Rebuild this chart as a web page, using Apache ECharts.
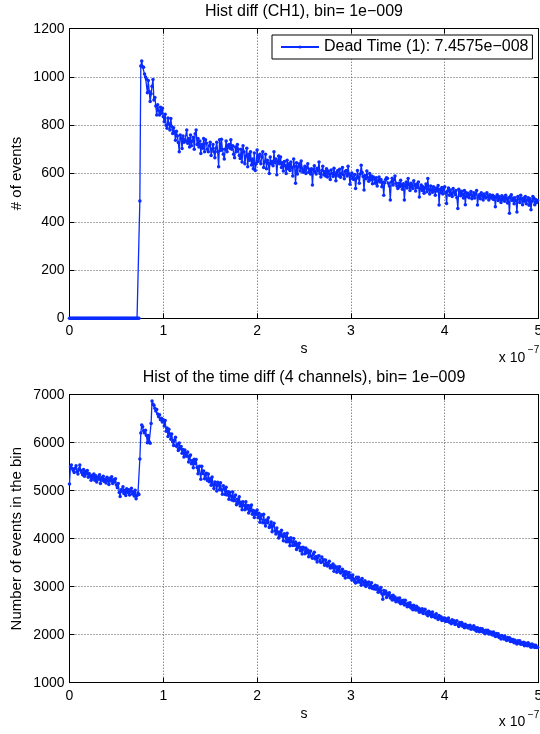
<!DOCTYPE html>
<html>
<head>
<meta charset="utf-8">
<script src="https://cdn.jsdelivr.net/npm/echarts@6/dist/echarts.min.js"></script>
<style>html,body{margin:0;padding:0;background:#fff;overflow:hidden}#c{width:540px;height:734px}</style>
</head>
<body>
<div id="c"></div>
<script>
// ---- data (bin counts, bin width 1e-9 s, first bin at 0) ----
const binWidth = 1e-9;
const xUnit = 1e-7;               // axis shows "x 10^-7"
const xTickLabels = ['0','1','2','3','4','5'];
const topTitle = 'Hist diff (CH1), bin= 1e\u2212009';
const bottomTitle = 'Hist of the time diff (4 channels), bin= 1e\u2212009';
const legendName = 'Dead Time (1): 7.4575e\u2212008';
const topYLabel = '# of events';
const bottomYLabel = 'Number of events in the bin';
const xLabel = 's';

const ch1Counts = [
0,0,0,0,0,0,0,0,0,0,0,0,0,0,0,0,0,0,0,0,0,0,0,0,0,
0,0,0,0,0,0,0,0,0,0,0,0,0,0,0,0,0,0,0,0,0,0,0,0,0,
0,0,0,0,0,0,0,0,0,0,0,0,0,0,0,0,0,0,0,0,0,0,0,0,0,
486,1045,1066,1042,1040,1012,1000,992,935,985,940,898,930,962,990,905,915,880,842,885,860,842,875,850,870,
835,814,845,800,787,830,805,780,828,795,766,790,770,738,775,755,728,690,760,745,704,755,730,740,735,
780,725,745,710,760,715,735,750,700,765,780,720,745,710,735,683,720,705,745,690,740,725,700,690,715,
730,675,700,720,690,665,705,730,690,628,740,695,742,700,680,660,700,735,690,715,720,705,740,700,715,
680,665,710,690,720,700,675,662,700,648,715,690,640,672,705,628,680,655,690,635,660,620,685,612,640,
697,650,672,680,640,668,690,625,648,680,620,655,642,600,668,640,650,632,690,645,660,595,650,672,640,
668,625,645,610,650,632,600,655,620,640,612,648,625,590,660,630,560,645,598,628,640,610,652,622,605,
612,630,600,625,640,605,618,598,620,552,615,632,605,598,622,610,648,600,585,612,630,595,608,590,620,
585,610,598,575,615,600,588,622,596,570,605,612,590,618,584,600,625,595,578,608,612,590,630,598,555,
590,602,578,575,596,538,580,612,585,560,598,634,604,588,532,592,578,610,582,568,600,574,590,558,586,
578,560,582,548,570,585,565,575,545,565,510,562,575,582,579,560,548,490,565,580,552,574,590,560,548,
538,560,545,572,550,535,558,490,548,565,540,579,552,530,560,545,538,570,550,528,556,542,565,503,540,
552,530,545,518,540,556,524,579,535,515,548,530,522,545,532,510,540,528,550,469,535,520,542,515,538,
545,520,476,528,540,510,532,518,505,538,522,512,530,500,455,535,520,508,526,515,498,530,470,520,505,
518,500,512,525,495,508,520,498,515,530,469,505,512,495,520,508,490,515,502,498,520,505,490,512,500,
498,510,492,505,462,500,512,488,505,495,480,508,490,502,485,510,495,478,500,435,505,512,488,498,475,
500,488,440,505,495,480,510,492,470,498,485,505,475,490,500,468,495,450,485,505,498,470,492,480,488
];

const allChCounts = [
5140,5500,5535,5460,5420,5380,5470,5520,5400,5350,5450,5535,5420,5380,5330,5440,5300,5400,5350,5420,5280,5360,5300,5220,5320,
5260,5350,5220,5310,5180,5280,5240,5330,5150,5270,5220,5300,5190,5240,5160,5280,5210,5130,5260,5200,5290,5150,5230,5180,5250,
5120,5060,5150,4960,4880,5020,4990,5080,4940,5010,4900,5040,4960,5020,4910,4990,5050,4930,4980,4890,5010,4830,4900,4950,4920,
5660,6200,6370,6330,6250,6200,6260,6150,6000,6150,6020,5990,6400,6870,6800,6780,6720,6660,6690,6600,6540,6580,6480,6510,6430,
6480,6346,6462,6238,6304,6130,6280,6180,6070,6180,6020,5942,6054,6116,5928,5960,5838,5996,5874,5922,5780,5860,5700,5850,5760,
5720,5804,5598,5712,5746,5560,5628,5476,5654,5562,5650,5482,5354,5506,5508,5240,5510,5360,5410,5250,5330,5366,5212,5348,5184,
5250,5114,5288,5122,5046,5180,5122,4994,5176,5118,5020,5168,5016,4924,5102,5040,4920,5070,4910,4980,4820,4966,4892,4808,4974,
4790,4876,4912,4708,4824,4740,4876,4682,4758,4604,4770,4696,4602,4768,4624,4690,4536,4682,4578,4704,4510,4586,4442,4568,4504,
4600,4434,4528,4342,4466,4500,4334,4508,4332,4266,4390,4334,4438,4232,4256,4350,4144,4268,4322,4166,4100,4224,4138,4012,4136,
4060,4176,4052,3958,4104,4051,3937,4113,3939,4005,3852,4018,3934,3860,4006,3863,3929,3775,3891,3817,3904,3750,3816,3682,3820,
3800,3689,3808,3707,3766,3625,3714,3743,3632,3591,3680,3719,3578,3627,3516,3635,3644,3543,3502,3621,3520,3559,3448,3557,3486,
3430,3499,3528,3387,3446,3395,3474,3323,3432,3401,3300,3409,3328,3417,3286,3305,3364,3233,3312,3181,3310,3259,3198,3297,3186,
3240,3141,3242,3163,3104,3075,3196,3097,3198,3099,3140,3031,3172,3093,3044,3125,3006,3087,3038,3099,2980,3041,3082,2963,3004,
2950,3029,2948,3017,2886,2955,2894,2983,2852,2741,2920,2849,2908,2777,2866,2815,2874,2763,2812,2721,2820,2729,2788,2687,2736,
2760,2681,2762,2644,2705,2656,2717,2619,2720,2631,2582,2654,2585,2666,2557,2609,2520,2611,2562,2514,2595,2516,2557,2469,2530,
2480,2542,2444,2506,2528,2430,2472,2395,2487,2419,2461,2373,2475,2377,2409,2352,2434,2356,2318,2400,2342,2374,2296,2348,2300,
2350,2274,2328,2282,2346,2260,2284,2228,2312,2256,2290,2214,2268,2292,2206,2170,2254,2208,2252,2176,2220,2144,2218,2162,2186,
2140,2184,2199,2113,2158,2122,2186,2101,2145,2070,2144,2108,2063,2127,2072,2126,2050,2085,2019,2094,2048,2092,2017,2061,2016,
2050,1993,2056,1999,1962,2025,1968,2021,1944,1977,1910,1983,1956,1909,1972,1905,1878,1941,1894,1937,1860,1903,1856,1899,1832,
1885,1831,1806,1872,1827,1873,1799,1834,1800,1845,1771,1827,1802,1768,1833,1769,1795,1740,1806,1751,1787,1733,1778,1734,1740
];

// ---- chart ----
const FONT = '"Liberation Sans", Arial, Helvetica, sans-serif';
const LINE = '#0a2cff';
const toPairs = arr => arr.map((v, i) => [i * binWidth / xUnit, v]);

const G = [
  {left: 69.5, top: 28.7, width: 469, height: 289.6},
  {left: 69.5, top: 394.7, width: 469, height: 288}
];
const yRanges = [{min: 0, max: 1200, interval: 200}, {min: 1000, max: 7000, interval: 1000}];

const axisLine = {show: true, onZero: false, lineStyle: {color: '#000', width: 1}};
const tick = {show: true, inside: true, length: 5, lineStyle: {color: '#000', width: 1}};
const grid = {show: true, lineStyle: {color: '#555', width: 1, type: [1, 2]}};

const xAxes = [], yAxes = [];
[0, 1].forEach(g => {
  xAxes.push({
    gridIndex: g, type: 'value', min: 0, max: 5, interval: 1, position: 'bottom',
    axisLine, axisTick: tick, splitLine: grid,
    axisLabel: {show: true, margin: 6, color: '#000', fontSize: 14, fontFamily: FONT,
      hideOverlap: false, showMinLabel: true, showMaxLabel: true,
      formatter: v => xTickLabels[Math.round(v)] ?? ''}
  });
  xAxes.push({
    gridIndex: g, type: 'value', min: 0, max: 5, interval: 1, position: 'top',
    axisLine, axisTick: tick, splitLine: {show: false}, axisLabel: {show: false}
  });
  yAxes.push({
    gridIndex: g, type: 'value', ...yRanges[g], position: 'left',
    axisLine, axisTick: tick, splitLine: grid,
    axisLabel: {show: true, margin: 5, color: '#000', fontSize: 14, fontFamily: FONT,
      formatter: v => String(v)}
  });
  yAxes.push({
    gridIndex: g, type: 'value', ...yRanges[g], position: 'right',
    axisLine, axisTick: tick, splitLine: {show: false}, axisLabel: {show: false}
  });
});

function txt(text, x, y, size, opts) {
  return Object.assign({
    type: 'text', x, y, silent: true,
    style: {text, fill: '#000', font: size + 'px ' + FONT,
      align: 'center', verticalAlign: 'middle', textAlign: 'center', textVerticalAlign: 'middle'}
  }, opts || {});
}

const graphics = [
  txt(topTitle, 304, 11.5, 16),
  txt(bottomTitle, 304, 377.5, 16),
  txt(topYLabel, 17, 173.5, 15, {rotation: Math.PI / 2}),
  txt(bottomYLabel, 17, 538.7, 15, {rotation: Math.PI / 2}),
  txt(xLabel, 304, 349, 14),
  txt(xLabel, 304, 714.5, 14),
  txt('x 10', 512, 357.8, 14),
  txt('\u22127', 533.5, 350.5, 10),
  txt('x 10', 512, 722.2, 14),
  txt('\u22127', 533.5, 715, 10)
];

const chart = echarts.init(document.getElementById('c'), null, {renderer: 'canvas'});
chart.setOption({
  animation: false,
  backgroundColor: '#fff',
  grid: G.map(g => Object.assign({containLabel: false, outerBoundsMode: 'none'}, g)),
  xAxis: xAxes,
  yAxis: yAxes,
  legend: {
    data: [legendName], left: 272, top: 35, orient: 'horizontal',
    backgroundColor: '#fff', borderColor: '#000', borderWidth: 1,
    padding: [4, 4, 4, 8], itemWidth: 38, itemHeight: 4, itemGap: 5,
    textStyle: {color: '#000', fontSize: 16, fontFamily: FONT, lineHeight: 16},
    selectedMode: false
  },
  series: [
    {
      name: legendName, type: 'line', xAxisIndex: 0, yAxisIndex: 0,
      data: toPairs(ch1Counts), symbol: 'circle', symbolSize: 3.5,
      showSymbol: true, showAllSymbol: true,
      lineStyle: {color: LINE, width: 1.3}, itemStyle: {color: LINE}
    },
    {
      name: 'all', type: 'line', xAxisIndex: 2, yAxisIndex: 2,
      data: toPairs(allChCounts), symbol: 'circle', symbolSize: 3.5,
      showSymbol: true, showAllSymbol: true,
      lineStyle: {color: LINE, width: 1.3}, itemStyle: {color: LINE}
    }
  ],
  graphic: graphics
});
</script>
</body>
</html>
